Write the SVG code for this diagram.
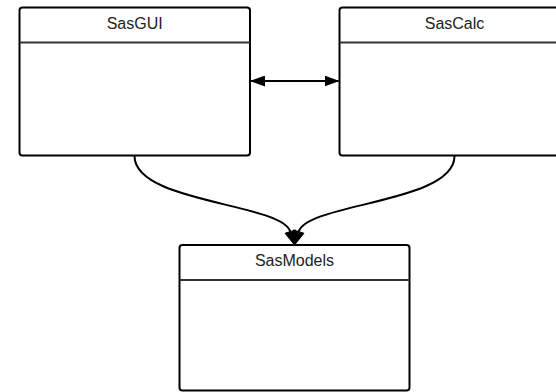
<svg xmlns="http://www.w3.org/2000/svg" width="556" height="392" viewBox="0 0 556 392">
<style>
.box{fill:#fff;stroke:#000;stroke-width:2}
.div{stroke:#333;stroke-width:2}
.t{font-family:"Liberation Sans",Arial,sans-serif;font-size:16px;fill:#222;text-anchor:middle}
.c{fill:none;stroke:#000;stroke-width:2}
.head{fill:#000;stroke:#000;stroke-width:1;stroke-linejoin:miter}
</style>
<defs>
<marker id="ah" viewBox="0 0 15 11" refX="14" refY="5.5" markerWidth="15" markerHeight="11" markerUnits="userSpaceOnUse" orient="auto-start-reverse">
<path d="M0,0 L15,5.5 L0,11 Z" fill="#000"/>
</marker>
</defs>
<rect width="556" height="392" fill="#fff"/>
<g id="SasGUI">
<rect class="box" x="19.5" y="7.5" width="230.5" height="148" rx="3"/>
<line class="div" x1="19.5" y1="42.5" x2="250" y2="42.5"/>
<text class="t" x="134.7" y="28.5">SasGUI</text>
</g>
<g id="SasCalc">
<rect class="box" x="339.5" y="7.5" width="230.5" height="148" rx="3"/>
<line class="div" x1="339.5" y1="42.5" x2="570" y2="42.5"/>
<text class="t" x="454.5" y="28.5">SasCalc</text>
</g>
<g id="SasModels">
<rect class="box" x="179.5" y="245" width="230" height="145.5" rx="3"/>
<line class="div" x1="179.5" y1="280" x2="409.5" y2="280"/>
<text class="t" x="294.5" y="266">SasModels</text>
</g>
<g id="connectors">
<path class="c" d="M251,81 L338.5,81" marker-start="url(#ah)" marker-end="url(#ah)"/>
<path class="c" d="M134.5,156 C134.5,203 281.3,203 290.3,231.6"/>
<polygon class="head" points="294.5,245 295.55,229.95 285.05,233.25"/>
<path class="c" d="M454.5,156 C454.5,203 307.7,203 298.7,231.6"/>
<polygon class="head" points="294.5,245 293.45,229.95 303.95,233.25"/>
</g>
</svg>
